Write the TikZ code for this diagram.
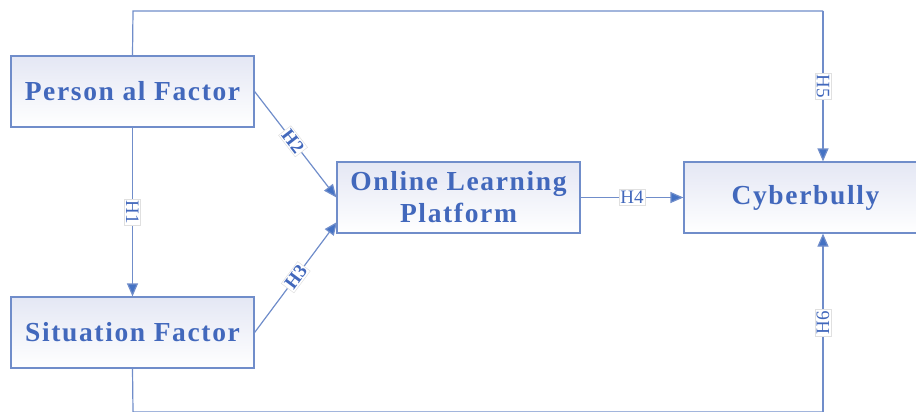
\documentclass[tikz,border=0pt]{standalone}
\usepackage{fontspec}
\setmainfont{Liberation Serif}
\newfontfamily\boxfont[LetterSpace=6]{Liberation Serif}
\usetikzlibrary{arrows.meta,positioning}
\definecolor{edgeblue}{RGB}{112,141,202}
\definecolor{tipblue}{RGB}{68,114,196}
\definecolor{textblue}{RGB}{66,104,188}
\definecolor{boxtop}{RGB}{228,231,244}
\tikzset{
  factor/.style={draw=edgeblue, line width=1.2pt, top color=boxtop, bottom color=white,
    minimum width=243pt, minimum height=71pt, inner sep=0pt, align=center,
    font=\boxfont\fontsize{27.5}{32}\selectfont\bfseries, text=textblue},
  link/.style={draw=edgeblue, line width=1.2pt},
  path/.style={link, -{Triangle[length=13pt,width=11pt,fill=tipblue]}},
  hyp/.style={fill=white, draw=black!12, line width=0.5pt, inner sep=1.5pt,
    font=\fontsize{19}{19}\selectfont, text=textblue},
  hypbold/.style={hyp, font=\fontsize{19}{19}\selectfont\bfseries},
}
\begin{document}
\begin{tikzpicture}[x=1pt,y=-1pt]
  \useasboundingbox (0,0) rectangle (916,412);
  % construct boxes
  \node[factor] (pf) at (132.5,91.5) {Person al Factor};
  \node[factor] (sf) at (132.5,332.5) {Situation Factor};
  \node[factor] (olp) at (458.5,197.5) {Online Learning\\Platform};
  \node[factor] (cb) at (805.5,197.5) {Cyberbully};
  % routing points for the outer paths
  \coordinate (tl) at (133,11);
  \coordinate (tr) at (823,11);
  \coordinate (bl) at (133,412);
  \coordinate (br) at (823,412);
  \coordinate (h3end) at (337,222);
  % H1
  \draw[path] (pf.south) -- node[hyp, rotate=-90] (h1) {H1} (sf.north);
  % H2 and H3
  \draw[path] (pf.east) -- node[hypbold, pos=0.47, sloped] (h2) {H2} (olp.west);
  \draw[path] (sf.east) -- node[hypbold, pos=0.5, sloped] (h3) {H3} (h3end);
  % H4
  \draw[path] (olp.east) -- node[hyp, pos=0.5] (h4) {H4} (cb.west);
  % H5 over the top
  \draw[link] (pf.north) -- (tl) -- (tr);
  \draw[path] (tr) -- node[hyp, rotate=-90, pos=0.5] (h5) {H5} (cb.north -| tr);
  % H6 along the bottom
  \draw[link] (sf.south) -- (bl) -- (br);
  \draw[path] (br) -- node[hyp, rotate=90, pos=0.5] (h6) {H6} (cb.south -| br);
\end{tikzpicture}
\end{document}
